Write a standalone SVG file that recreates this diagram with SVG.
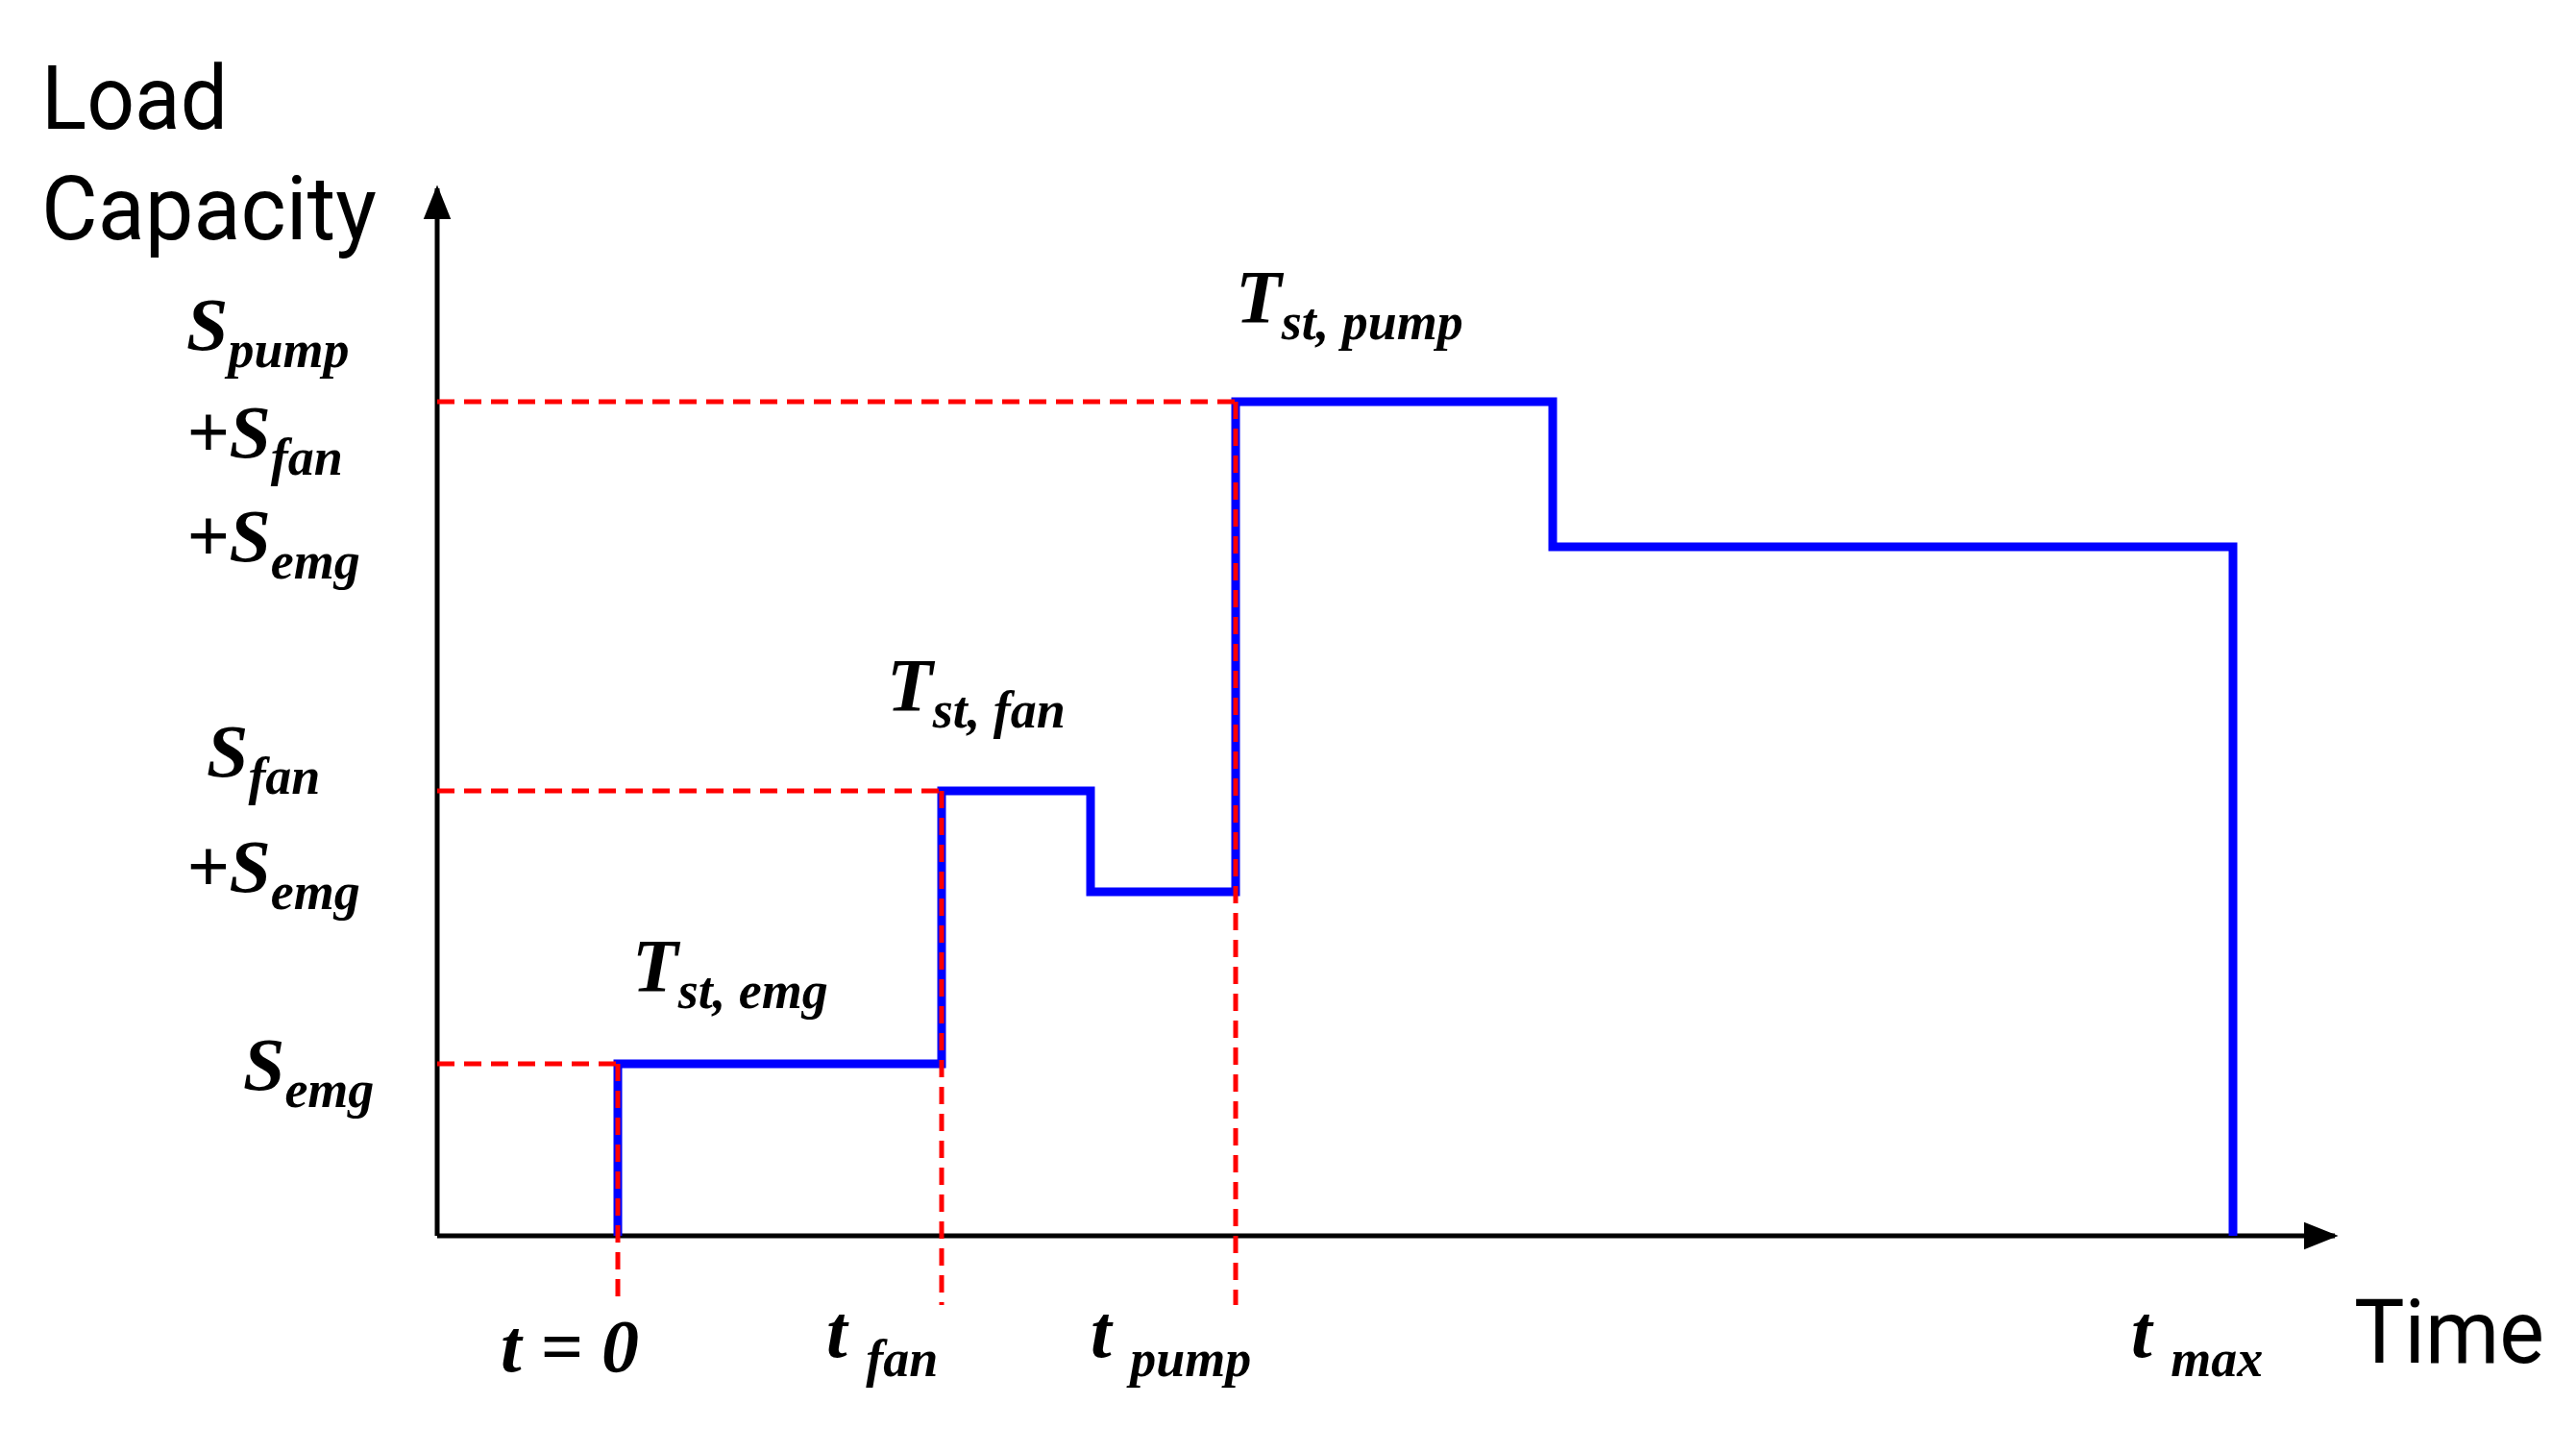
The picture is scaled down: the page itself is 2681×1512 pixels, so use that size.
<svg xmlns="http://www.w3.org/2000/svg" width="2681" height="1512" viewBox="0 0 2681 1512">
<style>
.ax{stroke:#000;stroke-width:5;fill:none}
.rd{stroke:#ff0000;stroke-width:5;stroke-dasharray:18 10;fill:none}
.bl{stroke:#0000ff;stroke-width:9;fill:none}
.lb{font-family:Roboto,"Liberation Sans",sans-serif;font-size:92px;fill:#000}
.m{font-family:"Liberation Serif",serif;font-style:italic;font-weight:bold;font-size:78px;fill:#000}
.s{font-size:54px}
</style>
<defs>
<marker id="ah" markerWidth="10" markerHeight="10" refX="8" refY="5" orient="auto" markerUnits="userSpaceOnUse" viewBox="0 0 10 10"><path d="M0,0 L10,5 L0,10 Z" fill="#000"/></marker>
<marker id="arr" viewBox="0 0 10 10" refX="9" refY="5" markerWidth="36" markerHeight="36" markerUnits="userSpaceOnUse" orient="auto"><path d="M0,1 L10,5 L0,9 Z" fill="#000"/></marker>
</defs>
<rect width="2681" height="1512" fill="#fff"/>
<g id="axes">
<line class="ax" x1="455" y1="1286" x2="455" y2="196" marker-end="url(#arr)"/>
<line class="ax" x1="455" y1="1286" x2="2430" y2="1286" marker-end="url(#arr)"/>
</g>
<g id="connectors">
<path class="bl" d="M643,1286 V1107 H980 V823 H1135 V928 H1286 V418 H1616 V569 H2324 V1286"/>
<path class="rd" d="M455,418 H1286 M455,823 H980 M455,1107 H643"/>
<path class="rd" d="M643,1107 V1358 M980,823 V1358 M1286,418 V1358"/>
</g>
<g id="labels">
<text class="lb" x="43" y="134" textLength="194" lengthAdjust="spacingAndGlyphs">Load</text>
<text class="lb" x="43" y="249" textLength="349" lengthAdjust="spacingAndGlyphs">Capacity</text>
<text class="lb" x="2450" y="1418" textLength="198" lengthAdjust="spacingAndGlyphs">Time</text>
<text class="m" x="194" y="364">S<tspan class="s" dy="18">pump</tspan></text>
<text class="m" x="194" y="476">+S<tspan class="s" dy="18">fan</tspan></text>
<text class="m" x="194" y="584">+S<tspan class="s" dy="18">emg</tspan></text>
<text class="m" x="215" y="808">S<tspan class="s" dy="18">fan</tspan></text>
<text class="m" x="194" y="928">+S<tspan class="s" dy="18">emg</tspan></text>
<text class="m" x="253" y="1134">S<tspan class="s" dy="18">emg</tspan></text>
<text class="m" x="658" y="1031">T<tspan class="s" dy="18">st, emg</tspan></text>
<text class="m" x="923" y="739">T<tspan class="s" dy="18">st, fan</tspan></text>
<text class="m" x="1286" y="335">T<tspan class="s" dy="18">st, pump</tspan></text>
<text class="m" x="521" y="1427">t  = 0</text>
<text class="m" x="860" y="1412">t <tspan class="s" dy="20">fan</tspan></text>
<text class="m" x="1135" y="1412">t <tspan class="s" dy="20">pump</tspan></text>
<text class="m" x="2218" y="1412">t <tspan class="s" dy="20">max</tspan></text>
</g>
</svg>
